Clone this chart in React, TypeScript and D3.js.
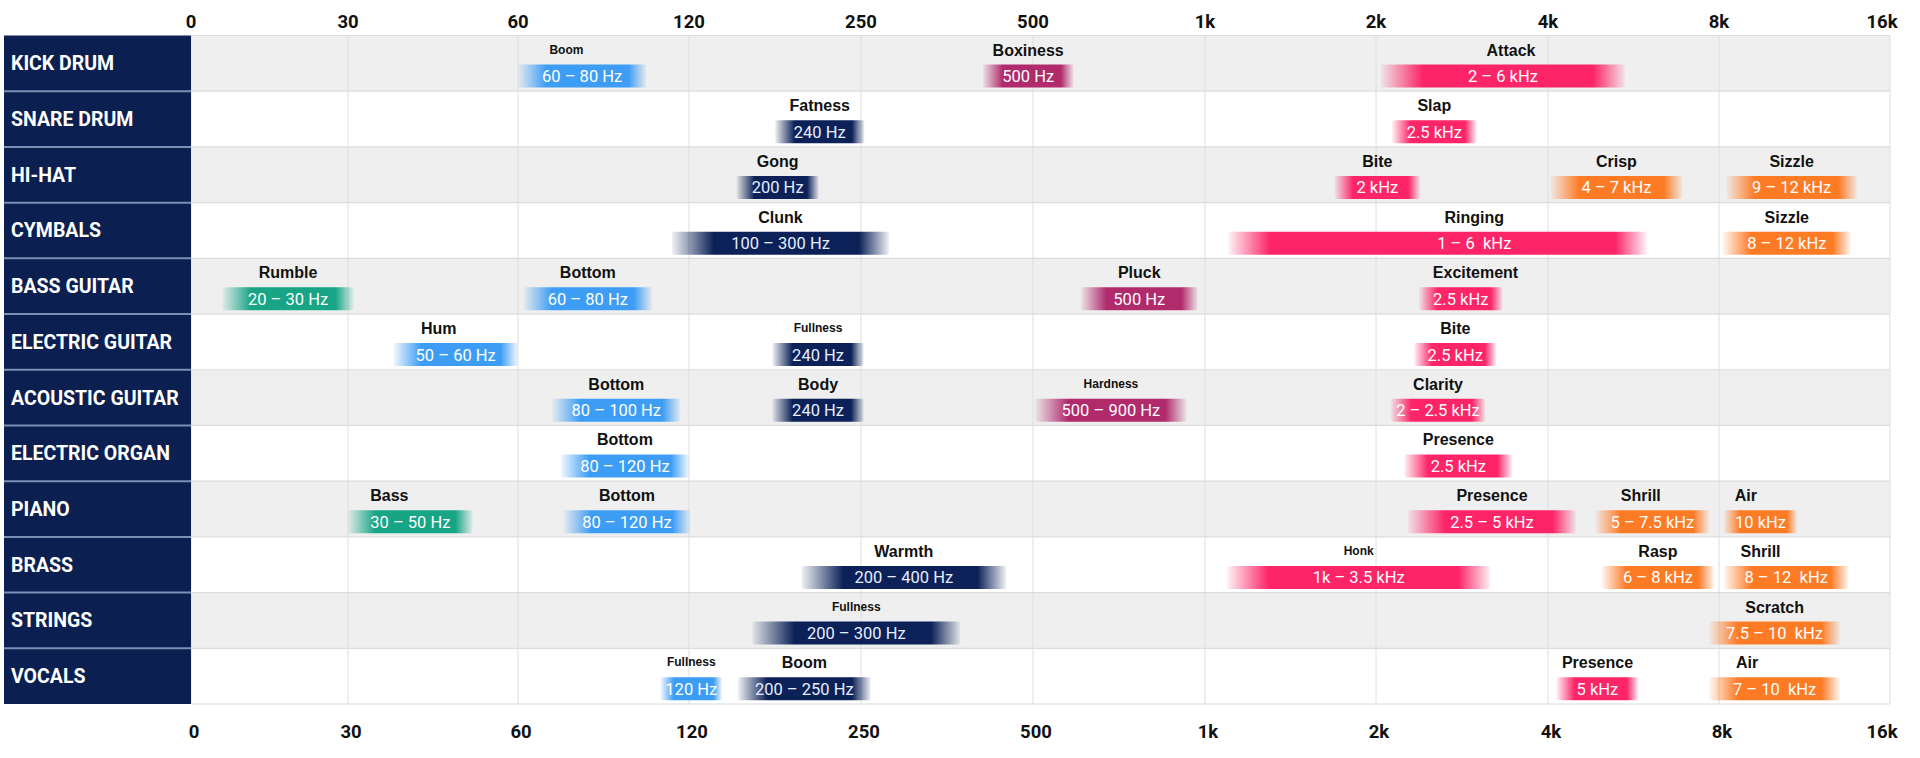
import React from "react";
import * as d3 from "d3";

if (typeof document !== "undefined") document.body.style.margin = "0";

// ---------- data ----------
const instruments = [
  "KICK DRUM", "SNARE DRUM", "HI-HAT", "CYMBALS", "BASS GUITAR", "ELECTRIC GUITAR",
  "ACOUSTIC GUITAR", "ELECTRIC ORGAN", "PIANO", "BRASS", "STRINGS", "VOCALS",
];
const tickFreqs = [0, 30, 60, 120, 250, 500, 1000, 2000, 4000, 8000, 16000];
const tickLabels = ["0", "30", "60", "120", "250", "500", "1k", "2k", "4k", "8k", "16k"];

type Band = { t: string; r: string; from: number; to: number; tone: string; small?: boolean; at?: number; textAt?: number };

const kickDrum: Band[] = [
  { t: "Boom", r: "60 – 80 Hz", from: 60, to: 105, tone: "blue", small: true, at: 77 },
  { t: "Boxiness", r: "500 Hz", from: 427, to: 618, tone: "plum" },
  { t: "Attack", r: "2 – 6 kHz", from: 2057, to: 5800, tone: "pink", at: 3570 },
];
const snareDrum: Band[] = [
  { t: "Fatness", r: "240 Hz", from: 185, to: 255, tone: "navy" },
  { t: "Slap", r: "2.5 kHz", from: 2186, to: 3171, tone: "pink" },
];
const hiHat: Band[] = [
  { t: "Gong", r: "200 Hz", from: 156, to: 218, tone: "navy" },
  { t: "Bite", r: "2 kHz", from: 1757, to: 2514, tone: "pink" },
  { t: "Crisp", r: "4 – 7 kHz", from: 4057, to: 7143, tone: "orange" },
  { t: "Sizzle", r: "9 – 12 kHz", from: 8343, to: 14457, tone: "orange" },
];
const cymbals: Band[] = [
  { t: "Clunk", r: "100 – 300 Hz", from: 114, to: 291, tone: "navy" },
  { t: "Ringing", r: "1 – 6  kHz", from: 1136, to: 6314, tone: "pink", at: 3143, textAt: 3143 },
  { t: "Sizzle", r: "8 – 12 kHz", from: 8171, to: 14171, tone: "orange" },
];
const bassGuitar: Band[] = [
  { t: "Rumble", r: "20 – 30 Hz", from: 6, to: 31, tone: "teal" },
  { t: "Bottom", r: "60 – 80 Hz", from: 62, to: 107, tone: "blue" },
  { t: "Pluck", r: "500 Hz", from: 639, to: 979, tone: "plum" },
  { t: "Excitement", r: "2.5 kHz", from: 2500, to: 3471, tone: "pink", at: 3157 },
];
const electricGuitar: Band[] = [
  { t: "Hum", r: "50 – 60 Hz", from: 38, to: 60, tone: "blue", at: 46 },
  { t: "Fullness", r: "240 Hz", from: 183, to: 254, tone: "navy", small: true },
  { t: "Bite", r: "2.5 kHz", from: 2443, to: 3400, tone: "pink" },
];
const acousticGuitar: Band[] = [
  { t: "Bottom", r: "80 – 100 Hz", from: 72, to: 117, tone: "blue" },
  { t: "Body", r: "240 Hz", from: 183, to: 254, tone: "navy" },
  { t: "Hardness", r: "500 – 900 Hz", from: 507, to: 946, tone: "plum", small: true },
  { t: "Clarity", r: "2 – 2.5 kHz", from: 2171, to: 3271, tone: "pink" },
];
const electricOrgan: Band[] = [
  { t: "Bottom", r: "80 – 120 Hz", from: 75, to: 120, tone: "blue" },
  { t: "Presence", r: "2.5 kHz", from: 2329, to: 3586, tone: "pink" },
];
const piano: Band[] = [
  { t: "Bass", r: "30 – 50 Hz", from: 30, to: 52, tone: "teal", at: 37.3 },
  { t: "Bottom", r: "80 – 120 Hz", from: 76, to: 121, tone: "blue" },
  { t: "Presence", r: "2.5 – 5 kHz", from: 2371, to: 4657, tone: "pink" },
  { t: "Shrill", r: "5 – 7.5 kHz", from: 5114, to: 7771, tone: "orange", at: 6171 },
  { t: "Air", r: "10 kHz", from: 8229, to: 11657, tone: "orange", at: 9257 },
];
const brass: Band[] = [
  { t: "Warmth", r: "200 – 400 Hz", from: 205, to: 461, tone: "navy" },
  { t: "Honk", r: "1k – 3.5 kHz", from: 1129, to: 3329, tone: "pink", small: true },
  { t: "Rasp", r: "6 – 8 kHz", from: 5257, to: 7886, tone: "orange" },
  { t: "Shrill", r: "8 – 12  kHz", from: 8229, to: 14057, tone: "orange", at: 9943 },
];
const strings: Band[] = [
  { t: "Fullness", r: "200 – 300 Hz", from: 168, to: 394, tone: "navy", small: true },
  { t: "Scratch", r: "7.5 – 10  kHz", from: 7771, to: 13657, tone: "orange" },
];
const vocals: Band[] = [
  { t: "Fullness", r: "120 Hz", from: 110, to: 145, tone: "blue", small: true },
  { t: "Boom", r: "200 – 250 Hz", from: 157, to: 264, tone: "navy" },
  { t: "Presence", r: "5 kHz", from: 4200, to: 6114, tone: "pink" },
  { t: "Air", r: "7 – 10  kHz", from: 7771, to: 13657, tone: "orange", at: 9314 },
];

const bandsByRow = [
  kickDrum, snareDrum, hiHat, cymbals, bassGuitar, electricGuitar,
  acousticGuitar, electricOrgan, piano, brass, strings, vocals,
];

// ---------- style ----------
const W = 1920;
const H = 758;
const tone = d3
  .scaleOrdinal<string, string>()
  .domain(["blue", "navy", "plum", "pink", "orange", "teal"])
  .range(["#3d9df4", "#0b2157", "#b02a6c", "#fd2467", "#fe7b26", "#17a585"]);

const x = d3
  .scaleLinear()
  .domain(tickFreqs)
  .range([191, 348, 518, 689, 861, 1033, 1205, 1376, 1548, 1719, 1890]);

const y = d3.scaleBand<string>().domain(instruments).range([35.5, 704]);

const labelFont = "Roboto, 'Liberation Sans', sans-serif";
const titleFont = "'Liberation Sans', Arial, sans-serif";

export default function App() {
  const gridLeft = x(0);
  const gridRight = x(16000);
  const rowH = y.bandwidth();
  const bars: React.ReactNode[] = [];
  const defs: React.ReactNode[] = [];

  bandsByRow.forEach((bands, ri) => {
    const top = y(instruments[ri]) as number;
    bands.forEach((b, bi) => {
      const x0 = x(b.from);
      const x1 = x(b.to);
      const w = x1 - x0;
      const fl = Math.min(0.22 * w, 42) / w;
      const fr = Math.min(0.14 * w, 32) / w;
      const id = `g${ri}_${bi}`;
      const c = tone(b.tone);
      defs.push(
        <linearGradient key={id} id={id} x1="0" x2="1" y1="0" y2="0">
          <stop offset="0" stopColor={c} stopOpacity={0.06} />
          <stop offset={fl} stopColor={c} stopOpacity={1} />
          <stop offset={1 - fr} stopColor={c} stopOpacity={1} />
          <stop offset="1" stopColor={c} stopOpacity={0.06} />
        </linearGradient>
      );
      const tx = b.at !== undefined ? x(b.at) : (x0 + x1) / 2;
      const rx = b.textAt !== undefined ? x(b.textAt) : (x0 + x1) / 2;
      bars.push(
        <g key={id}>
          <rect x={x0} y={top + 29} width={w} height={23} rx={2} fill={`url(#${id})`} />
          <text
            x={rx}
            y={top + 46.5}
            textAnchor="middle"
            fill={b.tone === "navy" ? "#e6eeff" : "#ffffff"}
            fontFamily={labelFont}
            fontSize={16.5}
            fontWeight={400}
            style={{ whiteSpace: "pre" }}
          >
            {b.r}
          </text>
          <text
            x={tx}
            y={top + (b.small ? 18 : 20)}
            textAnchor="middle"
            fill="#111111"
            fontFamily={titleFont}
            fontWeight={700}
            fontSize={b.small ? 12 : 16}
          >
            {b.t}
          </text>
        </g>
      );
    });
  });

  return (
    <svg width={W} height={H} style={{ display: "block", background: "#ffffff" }}>
      <defs>{defs}</defs>
      {/* row backgrounds */}
      {instruments.map((name, i) => (
        <rect
          key={name}
          x={gridLeft}
          y={y(name) as number}
          width={gridRight - gridLeft}
          height={rowH}
          fill={i % 2 === 0 ? "#efefef" : "#ffffff"}
        />
      ))}
      {/* vertical grid lines */}
      {tickFreqs.map((f) => (
        <line key={f} x1={x(f)} x2={x(f)} y1={35.5} y2={704} stroke="#dedede" strokeWidth={1} />
      ))}
      {/* horizontal row lines */}
      {d3.range(instruments.length + 1).map((i) => (
        <line
          key={i}
          x1={gridLeft}
          x2={gridRight}
          y1={35.5 + i * rowH}
          y2={35.5 + i * rowH}
          stroke="#dcdcdc"
          strokeWidth={1.2}
        />
      ))}
      {/* label column */}
      <rect x={4} y={35.5} width={gridLeft - 4} height={704 - 35.5} fill="#0b1f50" />
      {instruments.map((name, i) => (
        <g key={name}>
          {i > 0 && (
            <line x1={4} x2={gridLeft} y1={35.5 + i * rowH} y2={35.5 + i * rowH} stroke="#7c8fb5" strokeWidth={2} />
          )}
          <text
            x={11}
            y={(y(name) as number) + rowH / 2 + 7}
            fill="#ffffff"
            fontFamily={labelFont}
            fontWeight={700}
            fontSize={19.5}
          >
            {name}
          </text>
        </g>
      ))}
      {/* bars */}
      {bars}
      {/* axis labels */}
      {tickLabels.map((l, i) => (
        <g key={l}>
          <text
            x={i === tickLabels.length - 1 ? x(tickFreqs[i]) - 8 : x(tickFreqs[i])}
            y={28}
            textAnchor="middle"
            fontFamily={labelFont}
            fontWeight={700}
            fontSize={18.5}
            fill="#111111"
          >
            {l}
          </text>
          <text
            x={i === tickLabels.length - 1 ? x(tickFreqs[i]) - 8 : x(tickFreqs[i]) + 3}
            y={738}
            textAnchor="middle"
            fontFamily={labelFont}
            fontWeight={700}
            fontSize={18.5}
            fill="#111111"
          >
            {l}
          </text>
        </g>
      ))}
    </svg>
  );
}
